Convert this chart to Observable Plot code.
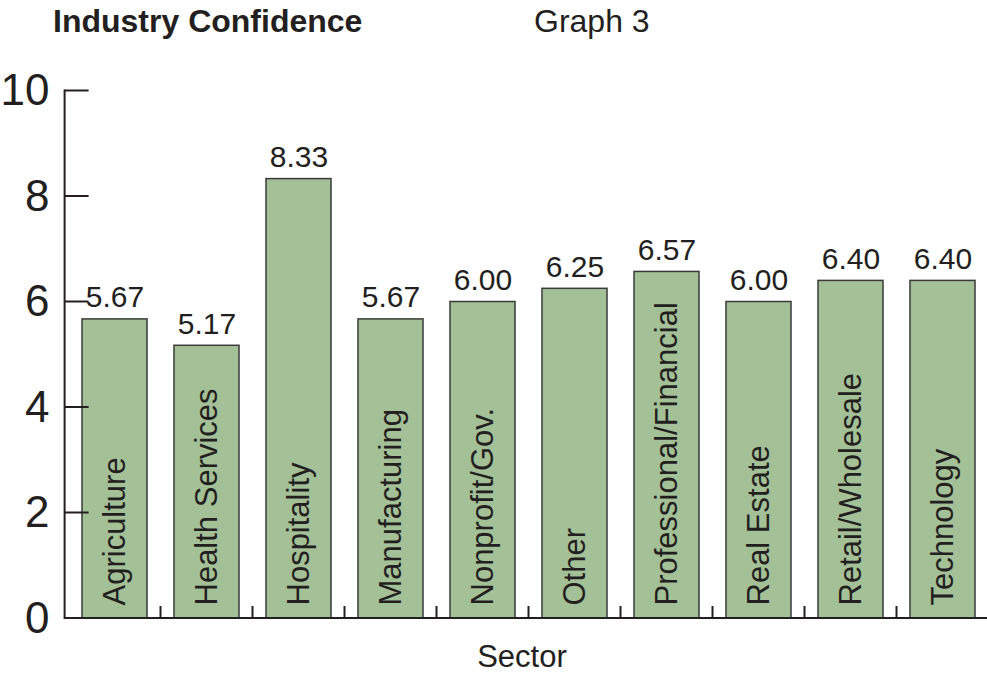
<!DOCTYPE html>
<html>
<head>
<meta charset="utf-8">
<script src="https://cdn.jsdelivr.net/npm/d3@7"></script>
<script src="https://cdn.jsdelivr.net/npm/@observablehq/plot@0.6"></script>
<style>
  html, body { margin: 0; padding: 0; background: #fff; overflow: hidden; }
  body { width: 987px; height: 673px; font-family: "Liberation Sans", Arial, Helvetica, sans-serif; color: #231f20; }
  #header { position: relative; height: 48px; }
  #title { position: absolute; left: 53px; top: 5px; font-size: 32px; line-height: 32px; font-weight: bold; white-space: nowrap; }
  #subtitle { position: absolute; left: 534px; top: 5px; font-size: 32px; line-height: 32px; white-space: nowrap; }
  #chart svg { display: block; overflow: visible; }
  #caption { position: relative; height: 35px; }
  #xlabel { position: absolute; left: 522px; top: 3px; transform: translateX(-50%); font-size: 31px; line-height: 31px; white-space: nowrap; }
</style>
</head>
<body>
<div id="header"><div id="title">Industry Confidence</div><div id="subtitle">Graph 3</div></div>
<div id="chart"></div>
<div id="caption"><div id="xlabel">Sector</div></div>
<script>
const sectors = ["Agriculture", "Health Services", "Hospitality", "Manufacturing", "Nonprofit/Gov.", "Other", "Professional/Financial", "Real Estate", "Retail/Wholesale", "Technology"];
const values = [5.67, 5.17, 8.33, 5.67, 6.00, 6.25, 6.57, 6.00, 6.40, 6.40];
const yTicks = [0, 2, 4, 6, 8, 10];

const data = sectors.map((s, i) => ({sector: s, value: values[i]}));
const ink = "#231f20";

function decorations(index, scales) {
  const x = scales.x, y = scales.y;
  const bw = typeof x.bandwidth === "function" ? x.bandwidth() : x.bandwidth;
  const step = typeof x.step === "function" ? x.step() : x.step;
  const xr = typeof x.range === "function" ? x.range() : scales.scales.x.range;
  const g = d3.create("svg:g").attr("stroke", ink).attr("stroke-width", 2).attr("fill", "none");
  g.append("line").attr("x1", xr[0]).attr("x2", xr[1]).attr("y1", y(0)).attr("y2", y(0));
  g.append("line").attr("x1", xr[0]).attr("x2", xr[0]).attr("y1", y(0) + 1).attr("y2", y(yTicks[yTicks.length - 1]) - 1);
  for (const t of yTicks.slice(1)) {
    g.append("line").attr("x1", xr[0]).attr("x2", xr[0] + 24).attr("y1", y(t)).attr("y2", y(t));
  }
  for (const c of sectors.slice(0, -1)) {
    const px = x(c) + bw + (step - bw) / 2;
    g.append("line").attr("x1", px).attr("x2", px).attr("y1", y(0)).attr("y2", y(0) - 12);
  }
  return g.node();
}

const chart = Plot.plot({
  width: 987,
  height: 590,
  marginLeft: 64.6, marginRight: 0, marginTop: 0, marginBottom: 0,
  style: {fontFamily: '"Liberation Sans", Arial, Helvetica, sans-serif', color: ink, background: "transparent", overflow: "visible"},
  x: {domain: sectors, range: [64.6, 992.6], paddingInner: 0.29, paddingOuter: 0.145, axis: null},
  y: {domain: [0, 10], range: [570, 42.5]},
  marks: [
    Plot.barY(data, {x: "sector", y: "value", fill: "#a4c097", stroke: "#3a3a3a", strokeWidth: 1.5}),
    Plot.text(data, {x: "sector", y: "value", text: d => d.value.toFixed(2), lineAnchor: "bottom", dy: -12, fontSize: 30, fill: ink}),
    Plot.text(data, {x: "sector", y: () => 0, text: "sector", rotate: -90, textAnchor: "start", lineAnchor: "middle", dy: -13, fontSize: 31, fill: ink}),
    Plot.axisY({ticks: yTicks, tickSize: 0, tickPadding: 15.6, fontSize: 44, label: null, fill: ink}),
    decorations
  ]
});
document.getElementById("chart").appendChild(chart);
</script>
</body>
</html>
